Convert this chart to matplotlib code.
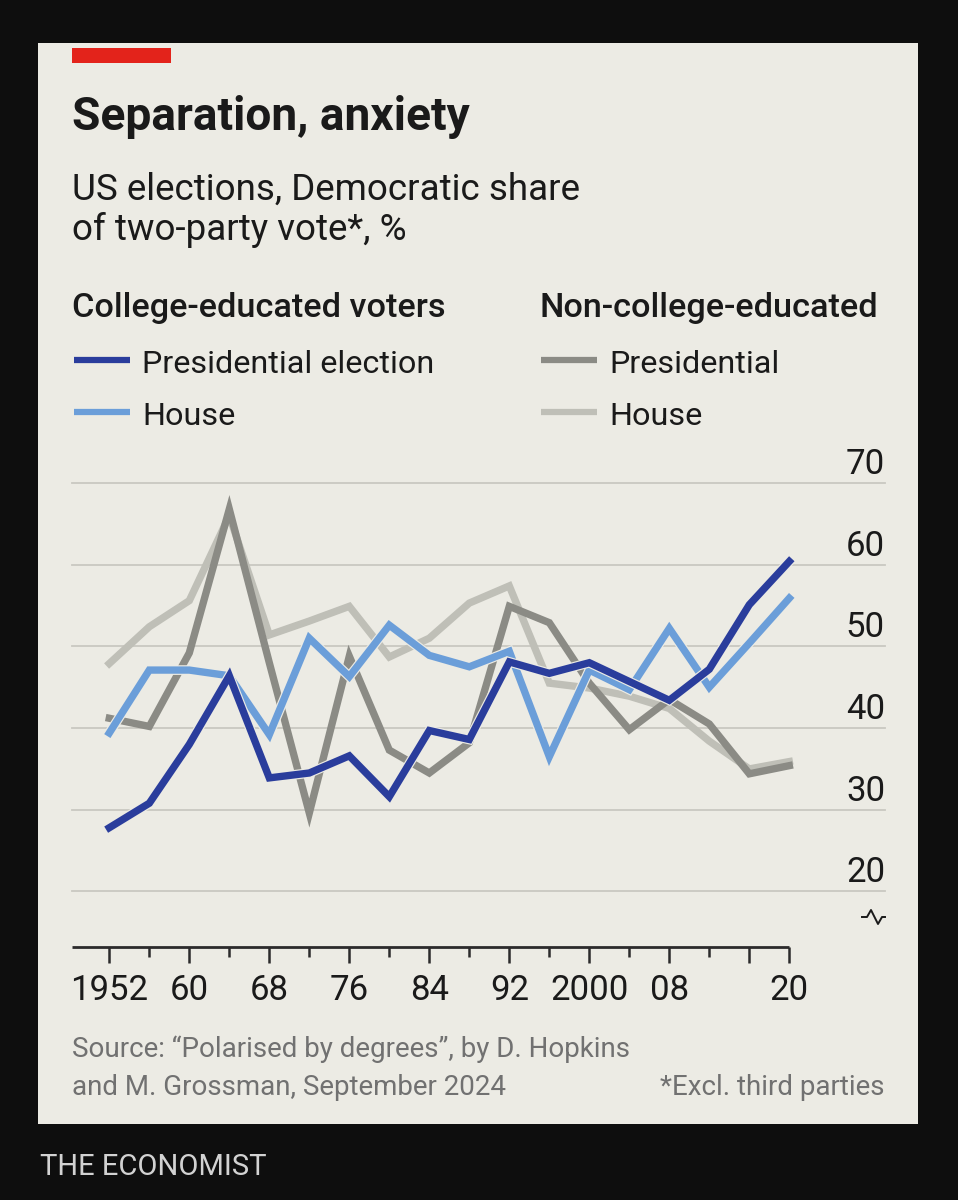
import matplotlib
matplotlib.use('Agg')
import matplotlib.pyplot as plt
import matplotlib.patheffects as pe
from matplotlib.patches import Rectangle
from matplotlib.lines import Line2D

plt.rcParams['font.family'] = ['Roboto', 'DejaVu Sans']

# data: Democratic share of two-party vote, %
years = [1952, 1956, 1960, 1964, 1968, 1972, 1976, 1980, 1984, 1988,
         1992, 1996, 2000, 2004, 2008, 2012, 2016, 2020]
college_pres = [27.8, 30.8, 38.0, 46.4, 33.9, 34.5, 36.6, 31.6, 39.7, 38.6,
                48.1, 46.7, 48.0, 45.7, 43.4, 47.2, 55.1, 60.4]
college_house = [39.4, 47.1, 47.1, 46.4, 39.2, 51.0, 46.3, 52.6, 48.9, 47.5,
                 49.4, 36.5, 47.1, 44.7, 52.2, 45.0, 50.4, 55.9]
noncollege_pres = [41.2, 40.2, 49.2, 66.8, 48.0, 29.6, 48.8, 37.3, 34.5, 38.2,
                   54.9, 52.9, 45.5, 39.8, 43.5, 40.5, 34.4, 35.4]
noncollege_house = [47.9, 52.4, 55.6, 66.0, 51.4, 53.1, 54.9, 48.7, 51.0, 55.3,
                    57.4, 45.5, 44.9, 43.9, 42.4, 38.4, 35.0, 35.9]

y_ticks = [20, 30, 40, 50, 60, 70]
x_label_years = [1952, 1960, 1968, 1976, 1984, 1992, 2000, 2008, 2020]
x_labels = ['1952', '60', '68', '76', '84', '92', '2000', '08', '20']

DARK_BLUE = '#2a3d9c'
LIGHT_BLUE = '#6b9ed9'
DARK_GREY = '#8b8b85'
LIGHT_GREY = '#bfbfb7'
BG = '#ecebe4'
TEXT = '#1a1a1a'

W, H = 958, 1200
fig = plt.figure(figsize=(W / 100, H / 100), dpi=100)
fig.patch.set_facecolor('#0e0e0e')


def fx(x):
    return x / W


def fy(y):
    return 1 - y / H


# panel and red bar (behind the axes)
fig.patches.append(Rectangle((fx(38), fy(1124)), fx(918) - fx(38), fy(43) - fy(1124),
                             transform=fig.transFigure, facecolor=BG, edgecolor='none',
                             zorder=-10))
fig.patches.append(Rectangle((fx(72), fy(63)), fx(171) - fx(72), fy(48) - fy(63),
                             transform=fig.transFigure, facecolor='#e3231b', edgecolor='none',
                             zorder=-9))

# titles
fig.text(fx(72), fy(130), 'Separation, anxiety', fontsize=33.2, fontweight='bold',
         color=TEXT, va='baseline')
fig.text(fx(72), fy(200), 'US elections, Democratic share', fontsize=26.5,
         color=TEXT, va='baseline')
fig.text(fx(72), fy(240), 'of two-party vote*, %', fontsize=26.5,
         color=TEXT, va='baseline')

# legend
fig.text(fx(72), fy(317), 'College-educated voters', fontsize=24.7, fontweight='medium',
         color=TEXT, va='baseline')
fig.text(fx(539), fy(317), 'Non-college-educated', fontsize=24.7, fontweight='medium',
         color=TEXT, va='baseline')
legend_items = [
    (72, 360, DARK_BLUE, 'Presidential election'),
    (72, 412, LIGHT_BLUE, 'House'),
    (539, 360, DARK_GREY, 'Presidential'),
    (539, 412, LIGHT_GREY, 'House'),
]
for x0, y0, col, lab in legend_items:
    fig.add_artist(Line2D([fx(x0 + 2), fx(x0 + 58)], [fy(y0), fy(y0)], transform=fig.transFigure,
                          color=col, lw=4.5, solid_capstyle='butt'))
    fig.text(fx(x0 + 70), fy(y0 + 13), lab, fontsize=23.3, color=TEXT, va='baseline')

# main axes
ax = fig.add_axes([fx(72), fy(947), fx(885) - fx(72), fy(483) - fy(947)])
ax.set_facecolor('none')
ax.set_xlim(1952 - 3.73, 1952 + 77.57)
ax.set_ylim(13.2, 70)
for s in ax.spines.values():
    s.set_visible(False)
ax.set_xticks([])
ax.set_yticks([])

for v in y_ticks:
    ax.axhline(v, color='#c9c8c1', lw=1.3, zorder=1, clip_on=False)
    ax.annotate(str(v), xy=(1, v), xycoords=('axes fraction', 'data'),
                xytext=(0, 9), textcoords='offset pixels', ha='right', va='baseline',
                fontsize=25, color=TEXT)

halo = [pe.Stroke(linewidth=7, foreground=BG), pe.Normal()]
ax.plot(years, noncollege_house, color=LIGHT_GREY, lw=5.3, zorder=2,
        solid_joinstyle='miter', clip_on=False)
ax.plot(years, noncollege_pres, color=DARK_GREY, lw=5.3, zorder=3,
        solid_joinstyle='miter', clip_on=False)
ax.plot(years, college_house, color=LIGHT_BLUE, lw=5.3, zorder=4,
        solid_joinstyle='miter', clip_on=False, path_effects=halo)
ax.plot(years, college_pres, color=DARK_BLUE, lw=5.3, zorder=5,
        solid_joinstyle='miter', clip_on=False, path_effects=halo)

# x axis baseline and ticks
ax.plot([ax.get_xlim()[0], 2020], [13.2, 13.2], color='#2b2b2b', lw=2, zorder=6,
        clip_on=False, solid_capstyle='butt')
for yr in range(1952, 2021, 4):
    long_tick = (yr - 1952) % 8 == 0 or yr == 2020
    ln = 16 if long_tick else 10
    ax.plot([yr, yr], [13.2, 13.2 - ln / 8.17], color='#2b2b2b', lw=1.8,
            clip_on=False, zorder=6, solid_capstyle='butt')
for yr, lab in zip(x_label_years, x_labels):
    ax.annotate(lab, xy=(yr, 0), xycoords=('data', 'axes fraction'),
                xytext=(0, -53), textcoords='offset pixels', ha='center', va='baseline',
                fontsize=25, color=TEXT)

# axis break symbol
bx = [862, 867, 871, 878, 882, 885]
by = [917, 917, 910, 924, 917, 917]
fig.add_artist(Line2D([fx(v) for v in bx], [fy(v) for v in by], transform=fig.transFigure,
                      color=TEXT, lw=1.4))

# footer
fig.text(fx(72), fy(1057), 'Source: \u201cPolarised by degrees\u201d, by D. Hopkins',
         fontsize=20, color='#717171', va='baseline')
fig.text(fx(72), fy(1095), 'and M. Grossman, September 2024',
         fontsize=20, color='#717171', va='baseline')
fig.text(fx(884), fy(1095), '*Excl. third parties', fontsize=20, color='#717171',
         va='baseline', ha='right')
fig.text(fx(40), fy(1175), 'THE ECONOMIST', fontsize=21, color='#d2d2d2', va='baseline')

fig.savefig('out.png', dpi=100, facecolor=fig.get_facecolor())
